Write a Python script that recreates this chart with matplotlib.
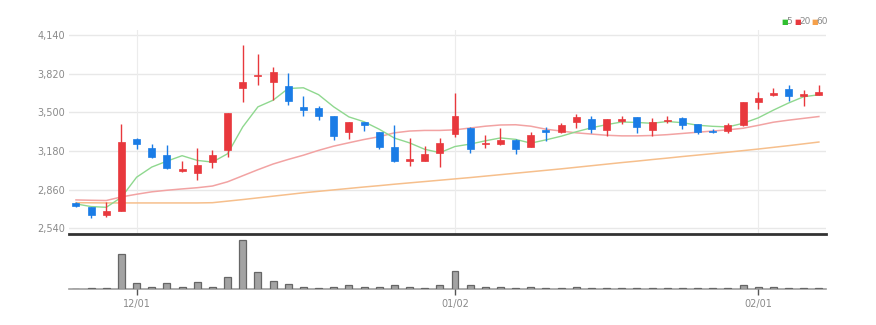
import numpy as np
import matplotlib
matplotlib.use('Agg')
import matplotlib.pyplot as plt

# 거래일 (2022-11-25 ~ 2023-02-07)
dates = ['11/25', '11/28', '11/29', '11/30',
         '12/01', '12/02', '12/05', '12/06', '12/07', '12/08', '12/09', '12/12', '12/13',
         '12/14', '12/15', '12/16', '12/19', '12/20', '12/21', '12/22', '12/23', '12/26',
         '12/27', '12/28', '12/29',
         '01/02', '01/03', '01/04', '01/05', '01/06', '01/09', '01/10', '01/11', '01/12',
         '01/13', '01/16', '01/17', '01/18', '01/19', '01/20', '01/25', '01/26', '01/27',
         '01/30', '01/31',
         '02/01', '02/02', '02/03', '02/06', '02/07']

opens = [2750, 2714, 2653, 2681, 3279, 3204, 3149, 3011, 2997, 3088,
         3190, 3697, 3797, 3747, 3719, 3545, 3539, 3467, 3341, 3417,
         3333, 3211, 3099, 3099, 3166, 3322, 3369, 3238, 3236, 3272,
         3211, 3355, 3341, 3417, 3444, 3353, 3430, 3458, 3353, 3425,
         3450, 3403, 3347, 3347, 3394, 3589, 3645, 3692, 3636, 3642]
highs = [2755, 2716, 2761, 3406, 3285, 3240, 3226, 3094, 3204, 3190,
         3495, 4057, 3982, 3871, 3822, 3633, 3550, 3470, 3419, 3422,
         3341, 3397, 3286, 3224, 3286, 3661, 3375, 3314, 3369, 3275,
         3333, 3375, 3411, 3486, 3472, 3444, 3469, 3462, 3450, 3472,
         3464, 3405, 3358, 3408, 3586, 3664, 3700, 3723, 3681, 3723]
lows = [2720, 2623, 2631, 2681, 3196, 3120, 3027, 3008, 2936, 3038,
        3130, 3586, 3730, 3600, 3559, 3467, 3434, 3272, 3277, 3347,
        3194, 3091, 3055, 3099, 3044, 3294, 3166, 3202, 3228, 3155,
        3211, 3263, 3328, 3369, 3330, 3305, 3400, 3325, 3305, 3408,
        3358, 3319, 3325, 3330, 3386, 3525, 3631, 3597, 3553, 3640]
closes = [2723, 2651, 2687, 3254, 3238, 3127, 3038, 3030, 3066, 3149,
          3495, 3752, 3811, 3835, 3592, 3523, 3467, 3308, 3419, 3391,
          3216, 3099, 3110, 3155, 3250, 3472, 3197, 3247, 3272, 3194,
          3314, 3333, 3397, 3458, 3358, 3442, 3447, 3375, 3422, 3436,
          3391, 3339, 3333, 3394, 3586, 3617, 3659, 3631, 3650, 3667]
volumes = [14, 20, 20, 706, 120, 54, 120, 46, 140, 54,
           254, 974, 340, 166, 106, 54, 34, 54, 80, 40,
           40, 80, 46, 24, 80, 354, 80, 54, 40, 24,
           46, 24, 24, 40, 24, 24, 24, 24, 24, 24,
           24, 24, 24, 24, 80, 40, 40, 24, 24, 24]

ma5 = [2742, 2720, 2714, 2797, 2963, 3047, 3096, 3141, 3102, 3088,
       3157, 3379, 3545, 3600, 3697, 3703, 3646, 3545, 3462, 3422,
       3360, 3287, 3247, 3194, 3166, 3217, 3237, 3264, 3288, 3276,
       3245, 3272, 3302, 3339, 3372, 3398, 3420, 3416, 3409, 3424,
       3414, 3393, 3384, 3379, 3409, 3454, 3518, 3577, 3629, 3645]
ma20 = [2775, 2772, 2770, 2800, 2822, 2842, 2855, 2866, 2876, 2890,
        2925, 2975, 3025, 3072, 3110, 3145, 3185, 3220, 3248, 3275,
        3298, 3330, 3345, 3350, 3350, 3355, 3370, 3385, 3395, 3397,
        3385, 3360, 3345, 3330, 3320, 3310, 3305, 3305, 3308, 3315,
        3325, 3335, 3345, 3355, 3368, 3392, 3418, 3435, 3450, 3465]
ma60 = [2752, 2751, 2750, 2750, 2750, 2750, 2750, 2750, 2750, 2752,
        2765, 2778, 2792, 2806, 2820, 2834, 2846, 2858, 2870, 2882,
        2893, 2905, 2916, 2927, 2938, 2949, 2960, 2972, 2984, 2996,
        3008, 3020, 3032, 3045, 3058, 3071, 3084, 3096, 3109, 3121,
        3134, 3146, 3158, 3170, 3183, 3196, 3210, 3224, 3239, 3254]

price_ticks = [2540, 2860, 3180, 3500, 3820, 4140]
date_ticks = ['12/01', '01/02', '02/01']

# 색상
UP = '#e8383d'
DOWN = '#1a7ce6'
C_MA5 = '#8fd88f'
C_MA20 = '#f2a3a3'
C_MA60 = '#f6bf8c'
TXT = '#8a8a8a'
FONT = ['Liberation Sans Narrow', 'DejaVu Sans']

fig = plt.figure(figsize=(8.76, 3.25), dpi=100)
ax = fig.add_axes([69 / 876, 1 - 234 / 325, 757 / 876, 204 / 325])
ax_v = fig.add_axes([69 / 876, 1 - 289.3 / 325, 757 / 876, 53.3 / 325])

x = np.arange(len(dates))
xlim = (-0.46, 49.47)
tick_pos = [dates.index(d) for d in date_ticks]

# 가격 패널
ax.set_xlim(*xlim)
ax.set_ylim(2493, 4181)
for p in price_ticks:
    ax.axhline(p, color='#e8e8e8', lw=1, zorder=0)
for t in tick_pos:
    ax.axvline(t, color='#ececec', lw=0.8, zorder=0)

ax.plot(x, ma60, color=C_MA60, lw=1.1, zorder=1)
ax.plot(x, ma20, color=C_MA20, lw=1.1, zorder=1)
ax.plot(x, ma5, color=C_MA5, lw=1.0, zorder=1)

w = 0.46
for i in x:
    o, h, l, c = opens[i], highs[i], lows[i], closes[i]
    col = UP if c >= o else DOWN
    ax.vlines(i, l, h, color=col, lw=1, zorder=2)
    lo, hi = min(o, c), max(o, c)
    ax.add_patch(plt.Rectangle((i - w / 2, lo), w, max(hi - lo, 6),
                               facecolor=col, edgecolor=col, lw=0.5, zorder=3))

ax.set_yticks(price_ticks)
ax.set_yticklabels([f'{p:,}' for p in price_ticks], fontsize=7, color=TXT, family=FONT)
ax.tick_params(axis='y', length=0, pad=3)
ax.set_xticks([])
for s in ['top', 'right', 'left']:
    ax.spines[s].set_visible(False)
ax.spines['bottom'].set_color('#333333')
ax.spines['bottom'].set_linewidth(2)

# 범례
labels = ['5', '20', '60']
lcols = ['#2fbf2f', UP, '#f5a04a']
lx = [781, 794, 811]
for px, lab, lc in zip(lx, labels, lcols):
    fig.text(px / 876, 1 - 22 / 325, '\u25A0', color=lc, fontsize=5,
             va='center', ha='left', family='DejaVu Sans')
    fig.text((px + 5) / 876, 1 - 22 / 325, lab, color=TXT, fontsize=6.5,
             va='center', ha='left', family=FONT)

# 거래량 패널
vmax = max(volumes)
ax_v.bar(x, volumes, width=0.46, color='#a3a3a3', edgecolor='#666666', lw=0.9, zorder=3)
ax_v.set_xlim(*xlim)
ax_v.set_ylim(0, vmax / 0.92)
ax_v.set_yticks([])
ax_v.set_xticks(tick_pos)
ax_v.set_xticklabels(date_ticks, fontsize=7, color=TXT, family=FONT)
ax_v.tick_params(axis='x', length=4, width=1, color='#555555', pad=3)
for s in ['top', 'right', 'left']:
    ax_v.spines[s].set_visible(False)
ax_v.spines['bottom'].set_color('#a0a0a0')
ax_v.spines['bottom'].set_linewidth(1.2)
ax_v.spines['bottom'].set_zorder(1)

fig.savefig('out.png', dpi=100, facecolor='white')
